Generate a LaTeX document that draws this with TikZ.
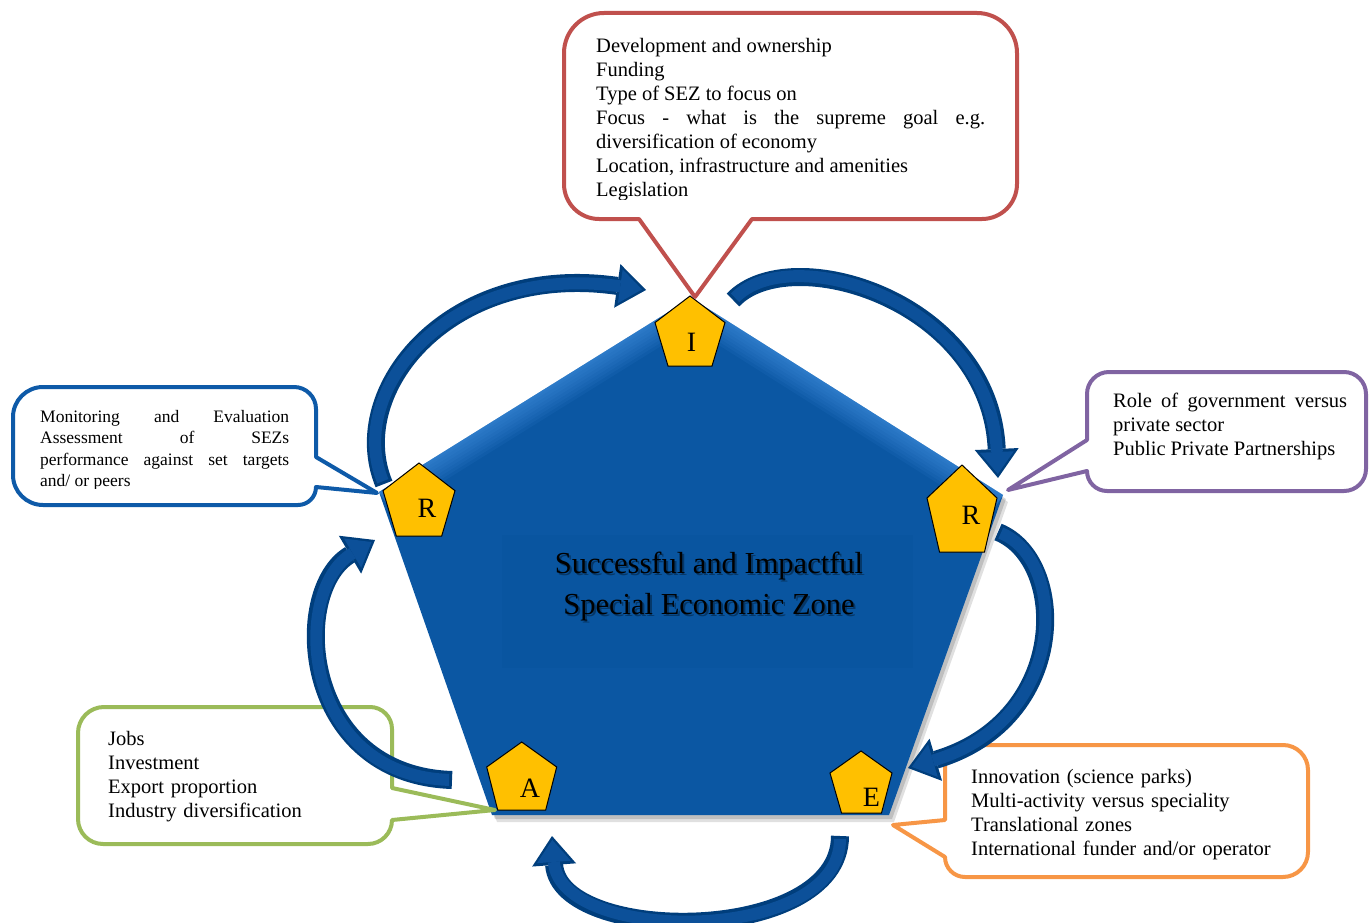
\documentclass[tikz,border=0pt]{standalone}
\usepackage{fontspec}
\setmainfont{Liberation Serif}
\newfontfamily\timesf{Liberation Serif}
\usetikzlibrary{arrows.meta}
\definecolor{pentblue}{RGB}{11,87,163}
\definecolor{edgeblue}{RGB}{80,160,240}
\definecolor{boxblue}{RGB}{9,85,160}
\definecolor{arrowfill}{RGB}{12,80,153}
\definecolor{arrowline}{RGB}{0,62,124}
\definecolor{cred}{RGB}{192,80,77}
\definecolor{cblue}{RGB}{14,90,168}
\definecolor{cpurple}{RGB}{128,100,162}
\definecolor{cgreen}{RGB}{155,187,89}
\definecolor{corange}{RGB}{247,150,70}
\definecolor{pyellow}{RGB}{255,192,0}
\tikzset{
  callout/.style={line width=4pt, fill=white, line join=round},
  bodytext/.style={inner sep=0pt, anchor=base west, font=\fontsize{20.5}{24}\selectfont},
  titletext/.style={inner sep=0pt, anchor=base, font=\fontsize{30.5}{36}\selectfont},
  letter/.style={inner sep=0pt, anchor=base, font=\fontsize{28}{30}\selectfont},
  smallpent/.style={fill=pyellow, draw=black, line width=1pt, line join=miter},
  arrowout/.style={line width=18pt, draw=arrowline, -{Triangle[width=44pt,length=29pt,line width=0pt]}},
  arrowin/.style={line width=12pt, draw=arrowfill, shorten >=4pt, shorten <=3pt, -{Triangle[width=34pt,length=22pt,line width=0pt]}},
}
\newcommand\sezarrow[4]{%
  \draw[arrowout] (#1) .. controls #2 and #3 .. (#4);
  \draw[arrowin] (#1) .. controls #2 and #3 .. (#4);}
\begin{document}
\begin{tikzpicture}[x=1pt,y=-1pt]
\useasboundingbox (0,0) rectangle (1369,923);
\clip (0,0) rectangle (1369,923);

% ---- big pentagon ----
\coordinate (pT) at (691,298);
\coordinate (pR) at (1003,495);
\coordinate (pBR) at (889,815);
\coordinate (pBL) at (492,815);
\coordinate (pL) at (379,492);
\fill[black, opacity=0.12] ([shift={(5,7)}]pT) -- ([shift={(5,7)}]pR) -- ([shift={(5,7)}]pBR) -- ([shift={(5,7)}]pBL) -- ([shift={(5,7)}]pL) -- cycle;
\fill[black, opacity=0.15] ([shift={(3,4)}]pT) -- ([shift={(3,4)}]pR) -- ([shift={(3,4)}]pBR) -- ([shift={(3,4)}]pBL) -- ([shift={(3,4)}]pL) -- cycle;
\begin{scope}
  \fill[pentblue] (pT) -- (pR) -- (pBR) -- (pBL) -- (pL) -- cycle;
  \clip (pT) -- (pR) -- (pBR) -- (pBL) -- (pL) -- cycle;
  \foreach \w in {50,44,38,32,26,20,14,8,4} {
    \draw[edgeblue, opacity=0.08, line width=\w pt, line join=miter] (pL) -- (pT) -- (pR);
  }
  \fill[boxblue] (502,535) rectangle (913,668);
\end{scope}

% ---- title ----
\node[titletext, text=black, text opacity=0.35] at (711,575.5) {Successful and Impactful};
\node[titletext, text=black, text opacity=0.35] at (711,616.5) {Special Economic Zone};
\node[titletext] (title1) at (709,573) {Successful and Impactful};
\node[titletext] (title2) at (709,614) {Special Economic Zone};

% ---- small pentagons ----
\draw[smallpent] (690,296) -- (725,322.6) -- (712,366) -- (668,366) -- (655,322.6) -- cycle;
\node[letter] (lI) at (691.5,351) {I};
\draw[smallpent] (419,463) -- (455,490.7) -- (441.7,536) -- (396.3,536) -- (383,490.7) -- cycle;
\node[letter] (lR1) at (427,517.5) {R};
\draw[smallpent] (962,465) -- (997,498) -- (984.5,552) -- (939.5,552) -- (927,498) -- cycle;
\node[letter] (lR2) at (971,524) {R};
\draw[smallpent] (521.7,742) -- (556.7,767) -- (545.7,810) -- (497.7,810) -- (486.7,767) -- cycle;
\node[letter] (lA) at (530,797) {A};
\draw[smallpent] (861,751) -- (892,773) -- (881.5,813) -- (841.5,813) -- (830,773) -- cycle;
\node[letter] (lE) at (871.5,806) {E};

% ---- callouts ----
% red (top)
\draw[callout, draw=cred] (604,13) -- (977,13) arc[start angle=270,end angle=360,radius=40]
  -- (1017,184) arc[start angle=0,end angle=90,radius=35]
  -- (752,219) -- (695,297) -- (639,219) -- (599,219) arc[start angle=90,end angle=180,radius=35]
  -- (564,53) arc[start angle=180,end angle=270,radius=40] -- cycle;
\begin{scope}
  \clip (560,0) rectangle (1020,199.5);
  \node[bodytext, text width=389pt, align=justify] (ttext) at (596,53)
    {Development and ownership\\Funding\\Type of SEZ to focus on\\Focus - what is the supreme goal e.g.\linebreak diversification of economy\\Location, infrastructure and amenities\\Legislation};
\end{scope}

% blue (left)
\draw[callout, draw=cblue] (43,387) -- (294,387) arc[start angle=270,end angle=360,radius=22]
  -- (316,457) -- (377,493) -- (316,487) arc[start angle=0,end angle=90,radius=18]
  -- (43,505) arc[start angle=90,end angle=180,radius=30]
  -- (13,417) arc[start angle=180,end angle=270,radius=30] -- cycle;
\begin{scope}
  \clip (0,380) rectangle (320,488);
  \node[bodytext, font=\timesf\fontsize{17.5}{21.5}\selectfont, text width=249pt, align=justify] (ltext) at (40,422)
    {Monitoring and Evaluation\linebreak Assessment of SEZs\linebreak performance against set targets\linebreak and/ or peers};
\end{scope}

% purple (right)
\draw[callout, draw=cpurple] (1109,372) -- (1344,372) arc[start angle=270,end angle=360,radius=22]
  -- (1366,469) arc[start angle=0,end angle=90,radius=22]
  -- (1107,491) arc[start angle=90,end angle=180,radius=20]
  -- (1008,490) -- (1087,440) -- (1087,394) arc[start angle=180,end angle=270,radius=22] -- cycle;
\node[bodytext, text width=234pt, align=justify] (rtext) at (1113,407)
  {Role of government versus\linebreak private sector\\Public Private Partnerships};

% green (bottom left)
\draw[callout, draw=cgreen] (104,707) -- (370,707) arc[start angle=270,end angle=360,radius=22]
  -- (392,788) -- (495,810) -- (392,820) arc[start angle=0,end angle=90,radius=24]
  -- (103,844) arc[start angle=90,end angle=180,radius=25]
  -- (78,733) arc[start angle=180,end angle=270,radius=26] -- cycle;
\node[bodytext, text width=280pt, align=left] (gtext) at (108,745)
  {Jobs\\Investment\\Export proportion\\Industry diversification};

% orange (bottom right)
\draw[callout, draw=corange] (967,745) -- (1283,745) arc[start angle=270,end angle=360,radius=25]
  -- (1308,852) arc[start angle=0,end angle=90,radius=25]
  -- (965,877) arc[start angle=90,end angle=180,radius=20]
  -- (893,825) -- (945,820) -- (945,767) arc[start angle=180,end angle=270,radius=22] -- cycle;
\node[bodytext, text width=330pt, align=left] (otext) at (971,783)
  {Innovation (science parks)\\Multi-activity versus speciality\\Translational zones\\International funder and/or operator};

% ---- cycle arrows ----
\coordinate (a1s) at (384,484);  \coordinate (a1e) at (646,290);
\coordinate (a2s) at (733,300);  \coordinate (a2e) at (998,478);
\coordinate (a3s) at (998,532);  \coordinate (a3e) at (908,768);
\coordinate (a4s) at (840,836);  \coordinate (a4e) at (552,836);
\coordinate (a5s) at (452,780);  \coordinate (a5e) at (375,540);
\sezarrow{a1s}{(345,390)}{(450,262)}{a1e}
\sezarrow{a2s}{(790,240)}{(990,300)}{a2e}
\sezarrow{a3s}{(1068,560)}{(1070,720)}{a3e}
\sezarrow{a4s}{(840,945)}{(560,945)}{a4e}
\sezarrow{a5s}{(300,775)}{(290,590)}{a5e}
\end{tikzpicture}
\end{document}
